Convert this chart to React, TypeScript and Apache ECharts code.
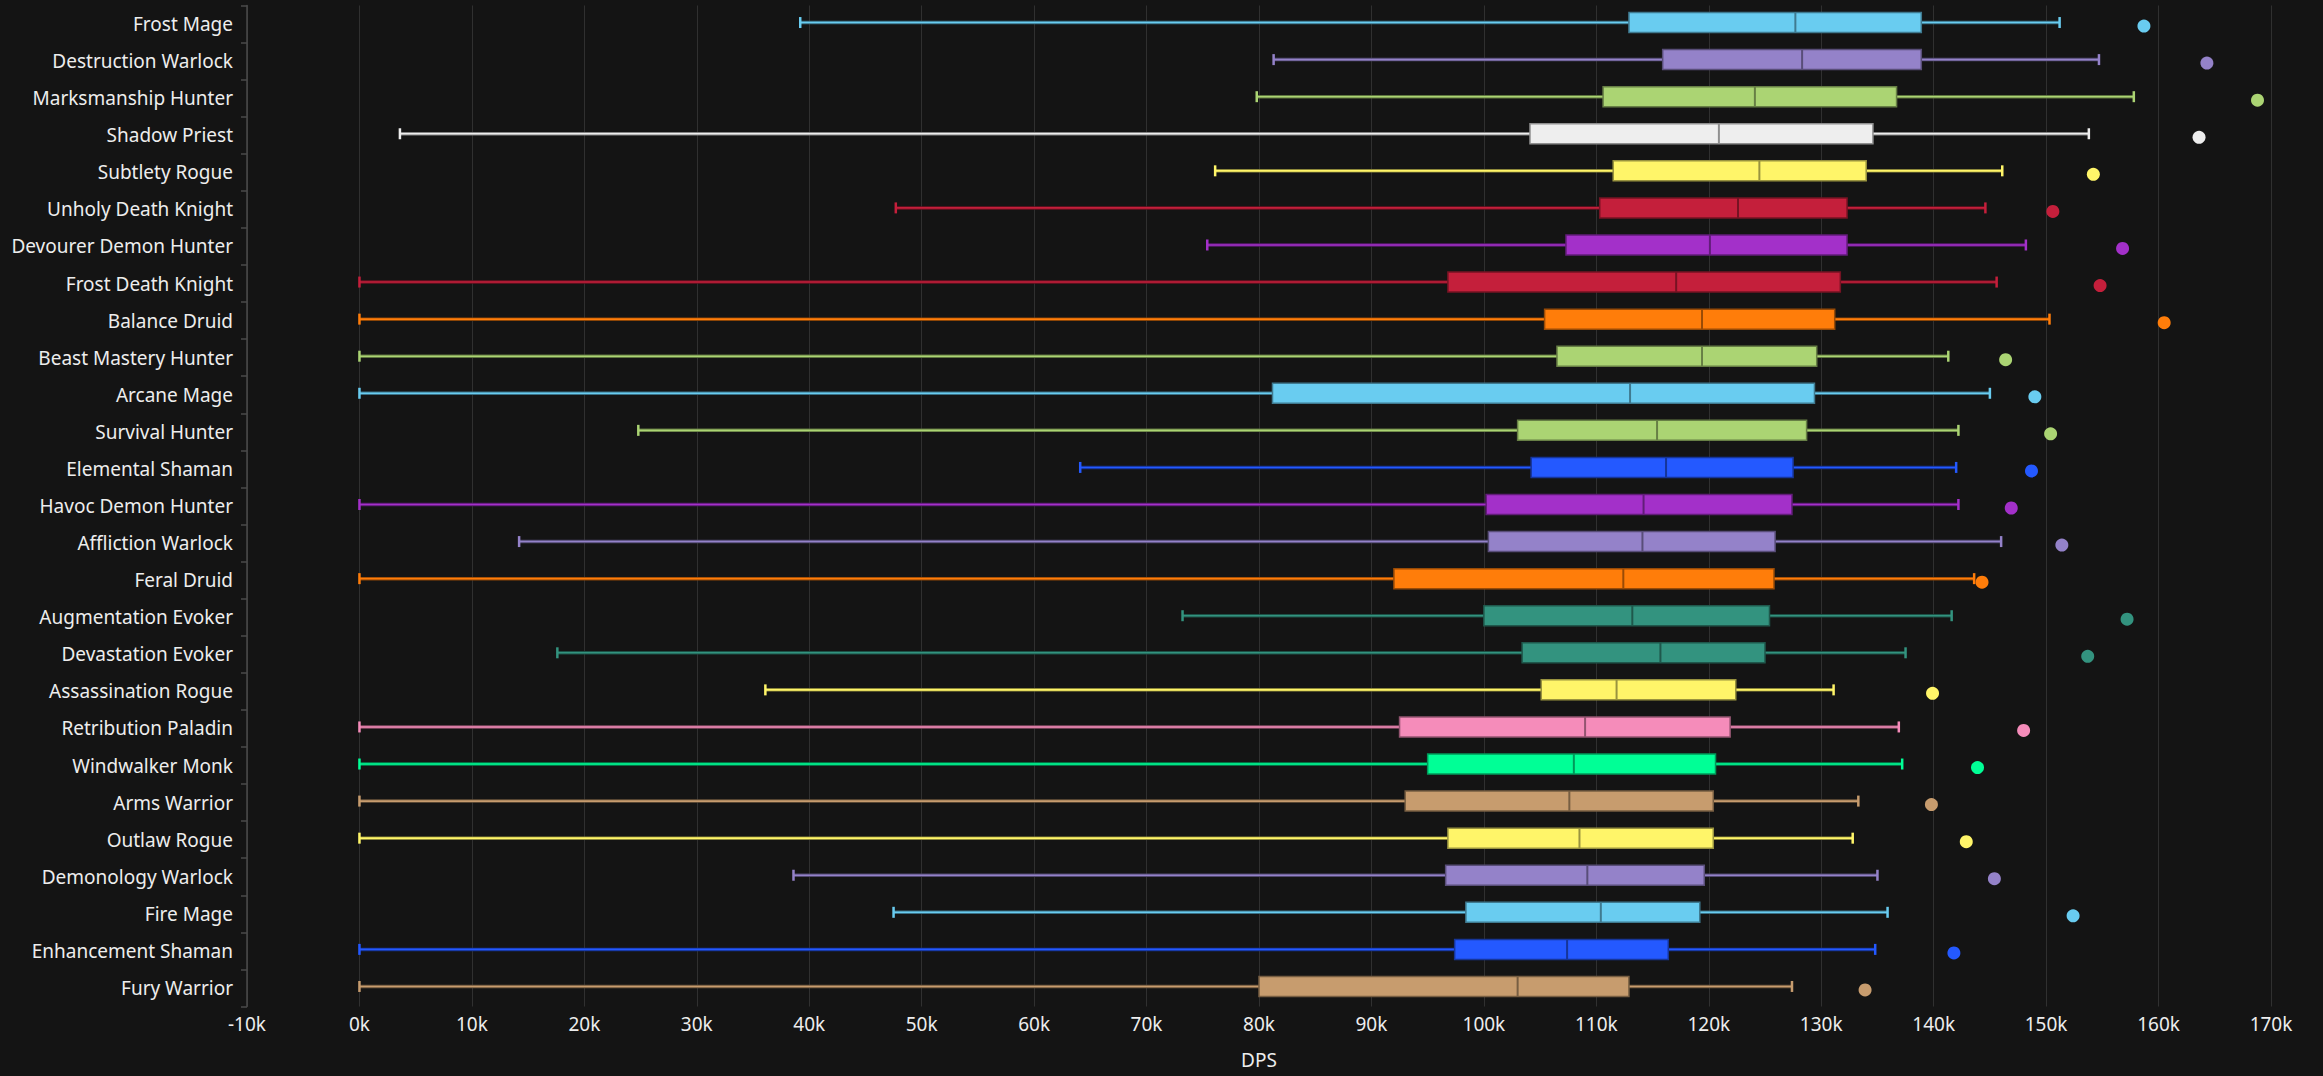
import React, { useEffect, useRef } from "react";
import * as echarts from "echarts";

const specs = [
  "Frost Mage", "Destruction Warlock", "Marksmanship Hunter", "Shadow Priest", "Subtlety Rogue",
  "Unholy Death Knight", "Devourer Demon Hunter", "Frost Death Knight", "Balance Druid", "Beast Mastery Hunter",
  "Arcane Mage", "Survival Hunter", "Elemental Shaman", "Havoc Demon Hunter", "Affliction Warlock",
  "Feral Druid", "Augmentation Evoker", "Devastation Evoker", "Assassination Rogue", "Retribution Paladin",
  "Windwalker Monk", "Arms Warrior", "Outlaw Rogue", "Demonology Warlock", "Fire Mage",
  "Enhancement Shaman", "Fury Warrior",
];

const specColors = [
  "#69CCF0", "#9482C9", "#ABD473", "#EEEEEE", "#FFF569",
  "#C41F3B", "#A330C9", "#C41F3B", "#FF7D0A", "#ABD473",
  "#69CCF0", "#ABD473", "#2459FF", "#A330C9", "#9482C9",
  "#FF7D0A", "#33937F", "#33937F", "#FFF569", "#F58CBA",
  "#00FF96", "#C79C6E", "#FFF569", "#9482C9", "#69CCF0",
  "#2459FF", "#C79C6E",
];

const minDps = [39200, 81300, 79800, 3600, 76100, 47700, 75400, 0, 0, 0, 0, 24800, 64100, 0, 14200, 0, 73200, 17600, 36100, 0, 0, 0, 0, 38600, 47500, 0, 0];
const q1Dps = [112900, 115900, 110600, 104100, 111500, 110300, 107300, 96800, 105400, 106500, 81200, 103000, 104200, 100200, 100400, 92000, 100000, 103400, 105100, 92500, 95000, 93000, 96800, 96600, 98400, 97400, 80000];
const medianDps = [127700, 128300, 124100, 120900, 124500, 122600, 120100, 117100, 119400, 119400, 113000, 115400, 116200, 114200, 114100, 112400, 113200, 115700, 111800, 109000, 108000, 107600, 108500, 109200, 110400, 107400, 103000];
const q3Dps = [138900, 138900, 136700, 134600, 134000, 132300, 132300, 131700, 131200, 129600, 129400, 128700, 127500, 127400, 125900, 125800, 125400, 125000, 122400, 121900, 120600, 120400, 120400, 119600, 119200, 116400, 112900];
const maxDps = [151200, 154700, 157800, 153800, 146100, 144600, 148200, 145600, 150300, 141300, 145000, 142200, 142000, 142200, 146000, 143600, 141600, 137500, 131100, 136900, 137200, 133300, 132800, 135000, 135900, 134800, 127400];
const topDps = [158700, 164300, 168800, 163600, 154200, 150600, 156800, 154800, 160500, 146400, 149000, 150400, 148700, 146900, 151400, 144300, 157200, 153700, 139900, 148000, 143900, 139800, 142900, 145400, 152400, 141800, 133900];

const FONT = "'Noto Sans', sans-serif";
const TEXT = "#ededed";

function darken(hex: string, f: number) {
  const n = parseInt(hex.slice(1), 16);
  const r = Math.round(((n >> 16) & 255) * f);
  const g = Math.round(((n >> 8) & 255) * f);
  const b = Math.round((n & 255) * f);
  return `rgb(${r},${g},${b})`;
}

export default function App() {
  const ref = useRef<HTMLDivElement>(null);
  useEffect(() => {
    document.body.style.margin = "0";
    document.body.style.background = "#141414";
    if (!ref.current) return;
    const chart = echarts.init(ref.current, undefined, { renderer: "svg" });
    const boxData = specs.map((_, i) => [i, minDps[i], q1Dps[i], medianDps[i], q3Dps[i], maxDps[i]]);
    const dotData = specs.map((_, i) => ({ value: [topDps[i], i], itemStyle: { color: specColors[i], opacity: 1 } }));
    chart.setOption({
      animation: false,
      backgroundColor: "#141414",
      grid: { left: 247, right: 52, top: 5.5, bottom: 69.5, containLabel: false },
      xAxis: {
        type: "value",
        min: -10000,
        max: 170000,
        interval: 10000,
        name: "DPS",
        nameLocation: "middle",
        nameGap: 44,
        nameTextStyle: { color: TEXT, fontFamily: FONT, fontSize: 19 },
        axisLine: { show: false },
        axisTick: { show: false },
        axisLabel: {
          color: TEXT,
          fontFamily: FONT,
          fontSize: 19,
          margin: 8,
          formatter: (v: number) => `${v / 1000}k`,
        },
        splitLine: { show: true, lineStyle: { color: "#303030", width: 1 } },
      },
      yAxis: {
        type: "category",
        data: specs,
        inverse: true,
        axisLine: { show: true, onZero: false, lineStyle: { color: "#4a4a4a", width: 1.5 } },
        axisTick: { show: true, length: 6, lineStyle: { color: "#4a4a4a", width: 1.5 } },
        axisLabel: { color: TEXT, fontFamily: FONT, fontSize: 19, margin: 14 },
        splitLine: { show: false },
      },
      series: [
        {
          type: "custom",
          data: boxData,
          encode: { x: [1, 2, 3, 4, 5], y: 0 },
          renderItem: (params: any, api: any) => {
            const i = api.value(0);
            const yc = api.coord([0, i])[1] - 1.5;
            const xs = [1, 2, 3, 4, 5].map((d) => api.coord([api.value(d), i])[0]);
            const [xMin, xQ1, xMed, xQ3, xMax] = xs;
            const c = specColors[i];
            const dk = darken(c, 0.55);
            const bh = 20;
            const cap = 5.5;
            return {
              type: "group",
              children: [
                { type: "line", shape: { x1: xMin, y1: yc, x2: xQ1, y2: yc }, style: { stroke: dk, lineWidth: 3.5 } },
                { type: "line", shape: { x1: xQ3, y1: yc, x2: xMax, y2: yc }, style: { stroke: dk, lineWidth: 3.5 } },
                { type: "line", shape: { x1: xMin, y1: yc, x2: xQ1, y2: yc }, style: { stroke: c, lineWidth: 1.6 } },
                { type: "line", shape: { x1: xQ3, y1: yc, x2: xMax, y2: yc }, style: { stroke: c, lineWidth: 1.6 } },
                { type: "line", shape: { x1: xMin, y1: yc - cap, x2: xMin, y2: yc + cap }, style: { stroke: c, lineWidth: 2.5 } },
                { type: "line", shape: { x1: xMax, y1: yc - cap, x2: xMax, y2: yc + cap }, style: { stroke: c, lineWidth: 2.5 } },
                {
                  type: "rect",
                  shape: { x: xQ1, y: yc - bh / 2, width: xQ3 - xQ1, height: bh },
                  style: { fill: c, stroke: darken(c, 0.6), lineWidth: 1.5 },
                },
                { type: "line", shape: { x1: xMed, y1: yc - bh / 2, x2: xMed, y2: yc + bh / 2 }, style: { stroke: darken(c, 0.6), lineWidth: 2 } },
              ],
            };
          },
          z: 2,
        },
        {
          type: "scatter",
          data: dotData,
          symbol: "circle",
          symbolSize: 13,
          symbolOffset: [0, 2],
          itemStyle: { opacity: 1 },
          z: 3,
        },
      ],
    });
    return () => chart.dispose();
  }, []);
  return <div ref={ref} style={{ width: 2323, height: 1076 }} />;
}
